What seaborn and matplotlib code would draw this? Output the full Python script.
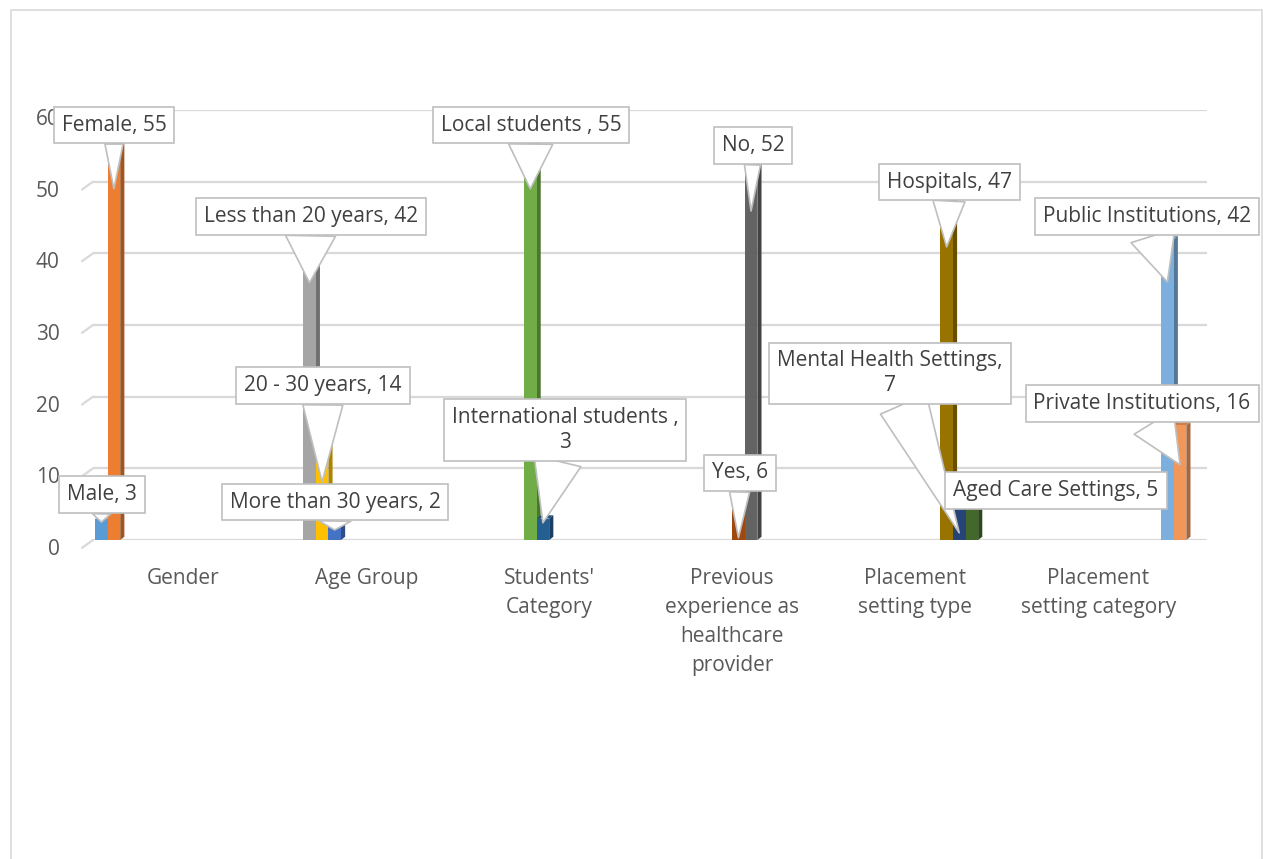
import matplotlib
matplotlib.use('Agg')
import matplotlib.pyplot as plt
import matplotlib.transforms as mtransforms
from matplotlib.patches import Polygon, Rectangle
from matplotlib.colors import to_rgb
import pandas as pd
import seaborn as sns

categories = ['Gender', 'Age Group', "Students'\nCategory",
              'Previous\nexperience as\nhealthcare\nprovider',
              'Placement\nsetting type', 'Placement\nsetting category']
group_of = [0, 0, 1, 1, 1, 2, 2, 3, 3, 4, 4, 4, 5, 5]
subgroups = ['Male', 'Female', 'Less than 20 years', '20 - 30 years',
             'More than 30 years', 'Local students ', 'International students ',
             'Yes', 'No', 'Hospitals', 'Mental Health Settings',
             'Aged Care Settings', 'Public Institutions', 'Private Institutions']
values = [3, 55, 42, 14, 2, 55, 3, 6, 52, 47, 7, 5, 42, 16]
colors = ['#5b9bd5', '#ed7d31', '#a5a5a5', '#ffc000', '#4472c4', '#70ad47',
          '#255e91', '#9e480e', '#636363', '#997300', '#264478', '#43682b',
          '#7cafdd', '#f1975a']

# callout layout (data coords): box centre, pointer end, pointer base width (px)
label_sep = [' ', ' ', ' ', ' ', ' ', ' ', '\n', ' ', ' ', ' ', '\n', ' ', ' ', ' ']
box_x = [-0.444, -0.378, 0.698, 0.764, 0.83, 1.90, 2.086, 3.043, 3.114,
         4.19, 3.862, 4.77, 5.267, 5.24]
box_y = [6.3, 57.9, 45.1, 21.5, 5.3, 57.9, 15.35, 9.35, 55.0, 49.95, 23.3,
         6.85, 45.1, 19.1]
tip_y = [2.5, 49, 35.9, 8.1, 1.4, 49, 2.4, 0.3, 45.9, 40.9, 1.0, 4.5, 36, 10.5]
wedge_px = [18, 18, 50, 40, 32, 44, 48, 20, 16, 32, 50, 24, 46, 46]

df = pd.DataFrame({
    'category': [categories[g] for g in group_of],
    'subgroup': subgroups,
    'value': values,
})

sns.set_style('white')
plt.rcParams['font.family'] = ['Open Sans', 'DejaVu Sans']

fig = plt.figure(figsize=(12.63, 8.59), dpi=100)
ax = fig.add_axes([93 / 1263, 1 - 540 / 859, 1114 / 1263, 430 / 859])

sns.barplot(data=df, x='category', y='value', hue='subgroup',
            order=categories, hue_order=subgroups, palette=colors,
            dodge=True, width=0.964, saturation=1, legend=False,
            errorbar=None, ax=ax, zorder=3, linewidth=0)

bars = [c.patches[0] for c in ax.containers]

# fake 3D side / top faces
for bar, col in zip(bars, colors):
    x0, w, h = bar.get_x(), bar.get_width(), bar.get_height()
    dx, dy = w * 0.33, 0.45
    dark = tuple(c * 0.68 for c in to_rgb(col))
    mid = tuple(c * 0.85 for c in to_rgb(col))
    ax.add_patch(Polygon([(x0 + w, 0), (x0 + w + dx, dy), (x0 + w + dx, h + dy),
                          (x0 + w, h)], closed=True, fc=dark, ec='none', zorder=2.9))
    ax.add_patch(Polygon([(x0, h), (x0 + dx, h + dy), (x0 + w + dx, h + dy),
                          (x0 + w, h)], closed=True, fc=mid, ec='none', zorder=2.9))

ax.set_xlim(-0.493, 5.595)
ax.set_ylim(0, 60)
ax.set_yticks(range(0, 61, 10))
ax.yaxis.grid(True, color='#d9d9d9', lw=1.6)
ax.set_axisbelow(True)
for s in ax.spines.values():
    s.set_visible(False)
ax.set_xlabel('')
ax.set_ylabel('')
ax.tick_params(axis='both', length=0, labelsize=15, labelcolor='#595959')
ax.tick_params(axis='x', pad=20)
ax.tick_params(axis='y', pad=24)
for lab in ax.get_xticklabels():
    lab.set_linespacing(1.5)
offset = mtransforms.ScaledTranslation(0, -0.07, fig.dpi_scale_trans)
for lab in ax.get_yticklabels():
    lab.set_transform(lab.get_transform() + offset)

# little floor stubs at the left of the gridlines
stub = ax.get_yaxis_transform()
for t in range(0, 61, 10):
    ax.plot([-11 / 1114, 0], [t - 1.1, t], color='#d9d9d9', lw=1.6,
            transform=stub, clip_on=False, zorder=1)

# callouts
for bar, name, val, sep, bx, by, ty, wp in zip(bars, subgroups, values, label_sep,
                                               box_x, box_y, tip_y, wedge_px):
    cx = bar.get_x() + bar.get_width() / 2
    ax.annotate(f'{name},{sep}{val}', xy=(cx, ty), xytext=(bx, by),
                ha='center', va='center', fontsize=15, color='#404040',
                multialignment='center', annotation_clip=False, zorder=6,
                bbox=dict(boxstyle='square,pad=0.38', fc='white', ec='#bfbfbf', lw=1.2),
                arrowprops=dict(arrowstyle=f'wedge,tail_width={wp / 20.8:.2f}',
                                fc='white', ec='#bfbfbf', lw=1.2,
                                shrinkA=0, shrinkB=0))

fig.patches.append(Rectangle((10.5 / 1263, -0.1), 1251 / 1263, 1.1 - 10.5 / 859,
                             transform=fig.transFigure, fill=False,
                             ec='#d9d9d9', lw=1.2, zorder=0))

fig.savefig('out.png', dpi=100)
